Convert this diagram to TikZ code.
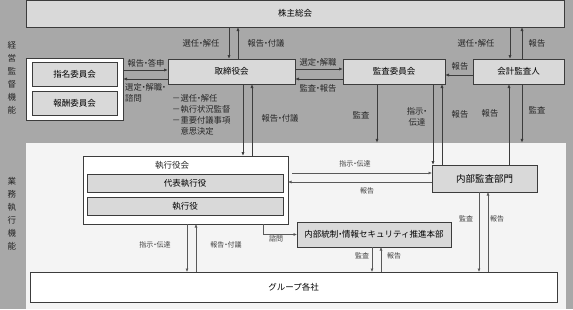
\documentclass[tikz,border=0pt]{standalone}
\usepackage{fontspec}
\setmainfont{Noto Sans CJK JP}
\usetikzlibrary{arrows.meta,positioning}
\definecolor{bggray}{HTML}{A8A8A8}
\definecolor{lightbg}{HTML}{F4F4F4}
\definecolor{boxgray}{HTML}{D9D9D9}
\definecolor{edgegray}{HTML}{3C3C3C}
\newcommand{\ndot}{\makebox[0.45em]{・}}
\tikzset{
  panel/.style={draw=edgegray, line width=0.9pt, fill=boxgray, inner sep=0pt, outer sep=0pt, align=center, font=\fontsize{8.5}{10}\selectfont},
  plain/.style={panel, fill=white},
  lbl/.style={inner sep=0pt, font=\fontsize{8.3}{11}\selectfont, text=black!85, align=left},
  small/.style={lbl, font=\fontsize{7}{9}\selectfont, text=black!75},
  flow/.style={-{Latex[length=4pt,width=3.2pt]}, line width=0.9pt, draw=edgegray},
  thin/.style={-{Latex[length=3.5pt,width=3pt]}, line width=0.6pt, draw=black!65}
}
\begin{document}
\begin{tikzpicture}[x=1pt,y=-1pt]
  \useasboundingbox (0,0) rectangle (573,309);
  \fill[bggray] (0,0) rectangle (573,309);
  \node[fill=lightbg, inner sep=0pt, minimum width=540pt, minimum height=166pt] (execarea) at (296,226) {};

  % vertical captions
  \node[lbl, align=center, font=\fontsize{8.5}{13}\selectfont] (cap1) at (12,78) {経\\営\\監\\督\\機\\能};
  \node[lbl, align=center, font=\fontsize{8.5}{13}\selectfont] (cap2) at (12,214) {業\\務\\執\\行\\機\\能};

  % supervision side
  \node[panel, minimum width=538pt, minimum height=27pt] (sh) at (295,13.5) {株主総会};
  \node[plain, minimum width=97pt, minimum height=62pt] (comm) at (74.5,89) {};
  \node[panel, minimum width=85pt, minimum height=24pt] (nom) at (74.5,74) {指名委員会};
  \node[panel, minimum width=85pt, minimum height=24pt] (pay) at (74.5,103) {報酬委員会};
  \node[panel, minimum width=127pt, minimum height=25pt] (bod) at (231.5,71.5) {取締役会};
  \node[panel, minimum width=102pt, minimum height=25pt] (audit) at (394,71.5) {監査委員会};
  \node[panel, minimum width=91pt, minimum height=25pt] (acct) at (518.5,71.5) {会計監査人};

  % execution side
  \node[plain, minimum width=205pt, minimum height=68pt] (exec) at (185.5,190) {};
  \node[lbl, font=\fontsize{8.5}{10}\selectfont] (exectitle) at (172,165) {執行役会};
  \node[panel, minimum width=196pt, minimum height=18pt] (ceo) at (185,183) {代表執行役};
  \node[panel, minimum width=196pt, minimum height=18pt] (officer) at (185,206) {執行役};
  \node[panel, minimum width=105pt, minimum height=27pt, font=\fontsize{9.5}{11}\selectfont] (ia) at (484.5,178.5) {内部監査部門};
  \node[panel, minimum width=154pt, minimum height=25pt] (ctrl) at (374,234.5) {内部統制\ndot 情報セキュリティ推進本部};
  \node[plain, minimum width=527pt, minimum height=30pt] (group) at (293.5,287) {グループ各社};

  % shareholders <-> board / accounting auditor
  \draw[flow] (229,0 |- sh.south) -- (229,0 |- bod.north);
  \draw[flow] (238,0 |- bod.north) -- (238,0 |- sh.south);
  \node[lbl] (l1) at (201,43) {選任\ndot 解任};
  \node[lbl] (l2) at (266,43) {報告\ndot 付議};
  \draw[flow] (510,0 |- sh.south) -- (510,0 |- acct.north);
  \draw[flow] (522,0 |- acct.north) -- (522,0 |- sh.south);
  \node[lbl] (l3) at (476,43) {選任\ndot 解任};
  \node[lbl] (l4) at (537,43) {報告};

  % committees <-> board
  \draw[flow] (comm.east |- 0,70) -- (bod.west |- 0,70);
  \draw[flow] (bod.west |- 0,79) -- (comm.east |- 0,79);
  \node[lbl] (l5) at (146,63) {報告\ndot 答申};
  \node[lbl, anchor=north west] (l6) at (125,83) {選定\ndot 解職\ndot\\諮問};

  % board <-> audit committee
  \draw[flow] (bod.east |- 0,69) -- (audit.west |- 0,69);
  \draw[flow] (audit.west |- 0,79) -- (bod.east |- 0,79);
  \node[lbl] (l7) at (318,62) {選定\ndot 解職};
  \node[lbl] (l8) at (318,88) {監査\ndot 報告};
  \draw[flow] (acct.west |- 0,75) -- (audit.east |- 0,75);
  \node[lbl] (l9) at (460,66) {報告};

  % board duties
  \node[lbl, anchor=north west] (duty) at (172,94) {－選任\ndot 解任\\－執行状況監督\\－重要付議事項\\\phantom{－}意思決定};

  % board <-> executive officers
  \draw[flow] (243,0 |- bod.south) -- (243,0 |- exec.north);
  \draw[flow] (252,0 |- exec.north) -- (252,0 |- bod.south);
  \node[lbl] (l10) at (280,118) {報告\ndot 付議};

  % audit committee / accounting auditor <-> internal audit
  \draw[flow] (377,0 |- audit.south) -- (377,0 |- execarea.north);
  \node[lbl] (l11) at (361,115) {監査};
  \draw[flow] (433,0 |- audit.south) -- (433,0 |- ia.north);
  \draw[flow] (442,0 |- ia.north) -- (442,0 |- audit.south);
  \node[lbl, align=center] (l12) at (417,117) {指示\ndot\\伝達};
  \node[lbl] (l13) at (460,114) {報告};
  \draw[flow] (509,0 |- ia.north) -- (509,0 |- acct.south);
  \draw[flow] (522,0 |- acct.south) -- (522,0 |- execarea.north);
  \node[lbl] (l14) at (490,113) {報告};
  \node[lbl] (l15) at (537,110) {監査};

  % executive officers <-> internal audit
  \draw[thin] (292,0 |- 0,173) -- (ia.west |- 0,173);
  \draw[thin] (ia.west |- 0,182) -- (exec.east |- 0,182);
  \node[small] (l16) at (355,164) {指示\ndot 伝達};
  \node[small] (l17) at (367,191) {報告};

  % consultation
  \draw[thin] (263,0 |- exec.south) |- (ctrl.west);
  \node[small] (l18) at (276,239) {諮問};

  % down to group companies
  \draw[thin] (187,0 |- exec.south) -- (187,0 |- group.north);
  \draw[thin] (196,0 |- group.north) -- (196,0 |- exec.south);
  \node[small] (l19) at (155,245) {指示\ndot 伝達};
  \node[small] (l20) at (226,245) {報告\ndot 付議};
  \draw[thin] (372,0 |- ctrl.south) -- (372,0 |- group.north);
  \draw[thin] (381,0 |- group.north) -- (381,0 |- ctrl.south);
  \node[small] (l21) at (362,256) {監査};
  \node[small] (l22) at (394,256) {報告};
  \draw[thin] (479,0 |- ia.south) -- (479,0 |- group.north);
  \draw[thin] (488,0 |- group.north) -- (488,0 |- ia.south);
  \node[small] (l23) at (466,219) {監査};
  \node[small] (l24) at (497,219) {報告};
\end{tikzpicture}
\end{document}
